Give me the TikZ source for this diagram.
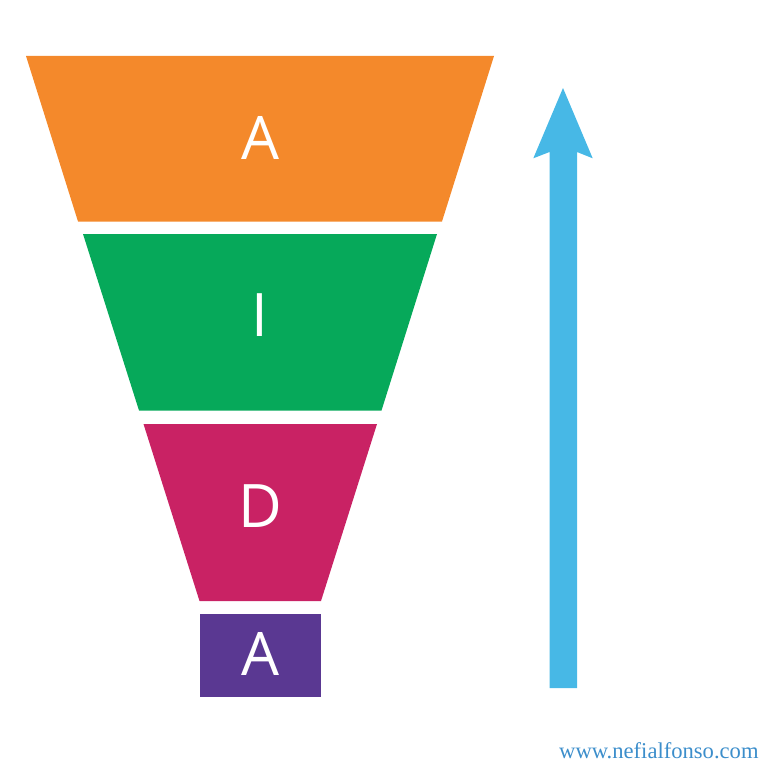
\documentclass[tikz,border=0pt]{standalone}
\usepackage{fontspec}
\setmainfont{Open Sans}
\newfontfamily\urlfont{Liberation Serif}
\definecolor{cOrange}{HTML}{F4892B}
\definecolor{cGreen}{HTML}{06A95A}
\definecolor{cMagenta}{HTML}{C92264}
\definecolor{cPurple}{HTML}{5A3892}
\definecolor{cArrow}{HTML}{47B8E6}
\definecolor{cUrl}{HTML}{3C8ECB}
\begin{document}
\begin{tikzpicture}[x=1pt,y=-1pt,
  lbl/.style={text=white,font=\fontsize{60}{60}\selectfont,anchor=base,inner sep=0pt},
  urltext/.style={text=cUrl,font=\urlfont\fontsize{22.6}{24}\selectfont,anchor=base west,inner sep=0pt}]
\useasboundingbox (0,0) rectangle (768,768);
% funnel segments
\fill[cOrange] (26,56) -- (494,56) -- (442,221.5) -- (78,221.5) -- cycle;
\fill[cGreen] (83,234) -- (437,234) -- (381.5,410.5) -- (139,410.5) -- cycle;
\fill[cMagenta] (143.5,424) -- (377,424) -- (321,601) -- (199.5,601) -- cycle;
\fill[cPurple] (200,614) rectangle (321,697);
% labels
\node[lbl] (l1) at (260,159) {A};
\node[lbl] (l2) at (260,336) {I};
\node[lbl] (l3) at (260,527) {D};
\node[lbl] (l4) at (260,675) {A};
% arrow
\fill[cArrow] (549.5,688) -- (577,688) -- (577,152) -- (592.7,158.3) -- (563,88)
  -- (533.3,158.3) -- (549.5,152) -- cycle;
% url
\node[urltext] (url) at (559,758) {www.nefialfonso.com};
\end{tikzpicture}
\end{document}
